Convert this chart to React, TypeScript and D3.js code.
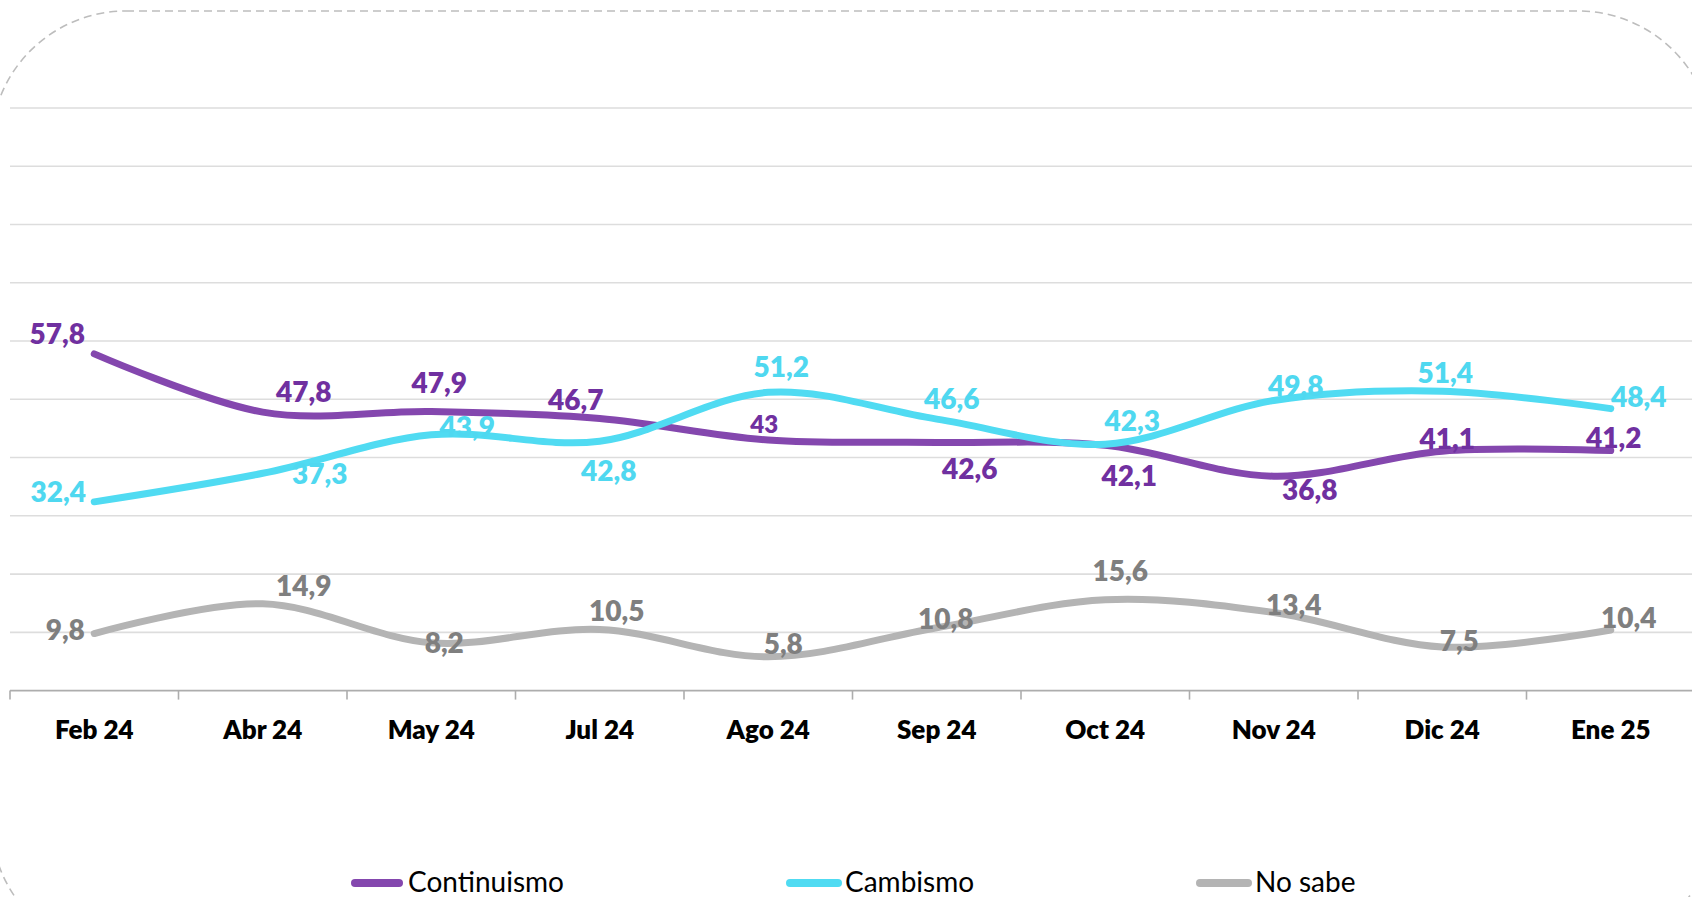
import React from "react";
import * as d3 from "d3";

const categories = ["Feb 24", "Abr 24", "May 24", "Jul 24", "Ago 24", "Sep 24", "Oct 24", "Nov 24", "Dic 24", "Ene 25"];
const continuismo = [57.8, 47.8, 47.9, 46.7, 43, 42.6, 42.1, 36.8, 41.1, 41.2];
const cambismo = [32.4, 37.3, 43.9, 42.8, 51.2, 46.6, 42.3, 49.8, 51.4, 48.4];
const noSabe = [9.8, 14.9, 8.2, 10.5, 5.8, 10.8, 15.6, 13.4, 7.5, 10.4];
const yTicks = [0, 10, 20, 30, 40, 50, 60, 70, 80, 90, 100];
const seriesNames = ["Continuismo", "Cambismo", "No sabe"];

// label placement offsets (layout only)
const contOffsets = [[-37, -21], [41, -21], [8, -30], [-24, -20], [-4, -17], [33, 26], [24, 30], [36, 13], [5, -13], [3, -14]];
const cambOffsets = [[-36, -11], [57, 0], [36, -9], [9, 29], [13, -26], [15, -21], [27, -24], [22, -15], [3, -19], [28, -13]];
const nsOffsets = [[-29, -5], [41, -19], [13, -1], [17, -19], [15, -14], [9, -10], [15, -30], [20, -9], [17, -7], [18, -13]];

const W = 1692;
const H = 897;
const FONT = "Lato, 'Open Sans', sans-serif";

export default function App() {
  const x = d3.scaleBand<string>().domain(categories).range([10, 1695]);
  const y = d3.scaleLinear().domain([0, 100]).range([690.6, 108]);
  const cx = (c: string) => (x(c) as number) + x.bandwidth() / 2;

  const line = d3
    .line<number>()
    .x((_, i) => cx(categories[i]))
    .y((d) => y(d))
    .curve(d3.curveCatmullRom.alpha(0));

  const series = [
    { name: seriesNames[0], values: continuismo, offsets: contOffsets, stroke: "#8447AE", label: "#7030A0" },
    { name: seriesNames[1], values: cambismo, offsets: cambOffsets, stroke: "#50DBF2", label: "#4FD8F0" },
    { name: seriesNames[2], values: noSabe, offsets: nsOffsets, stroke: "#B4B4B4", label: "#7F7F7F" },
  ];

  const legendPos = [
    { x1: 355, x2: 399, tx: 408 },
    { x1: 790, x2: 838, tx: 845 },
    { x1: 1200, x2: 1248, tx: 1255 },
  ];

  const ticks = d3.range(categories.length + 1).map((i) => 10 + i * x.step());

  return (
    <svg
      width={W}
      height={H}
      style={{ position: "absolute", left: 0, top: 0, background: "#fff" }}
      fontFamily={FONT}
    >
      <rect x={0} y={0} width={W} height={H} fill="#fff" />
      <rect
        x={-9}
        y={11}
        width={1722}
        height={944}
        rx={135}
        ry={135}
        fill="none"
        stroke="#BDBDBD"
        strokeWidth={1.6}
        strokeDasharray="8 5"
      />
      {yTicks.slice(1).map((t) => (
        <line key={t} x1={10} x2={W} y1={y(t)} y2={y(t)} stroke="#DDDDDD" strokeWidth={1.6} />
      ))}
      <line x1={10} x2={W} y1={y(0)} y2={y(0)} stroke="#ADADAD" strokeWidth={1.6} />
      {ticks.map((t, i) => (
        <line key={i} x1={t} x2={t} y1={y(0)} y2={y(0) + 9} stroke="#ADADAD" strokeWidth={1.6} />
      ))}
      {categories.map((c) => (
        <text key={c} x={cx(c)} y={739} textAnchor="middle" fontSize={26} fontWeight={800} fill="#000">
          {c}
        </text>
      ))}
      {series.map((s) => (
        <path
          key={s.name}
          d={line(s.values) || ""}
          fill="none"
          stroke={s.stroke}
          strokeWidth={7}
          strokeLinecap="round"
          strokeLinejoin="round"
        />
      ))}
      {series.map((s) =>
        s.values.map((v, i) => (
          <text
            key={s.name + i}
            x={cx(categories[i]) + s.offsets[i][0]}
            y={y(v) + s.offsets[i][1]}
            textAnchor="middle"
            dominantBaseline="central"
            fontSize={v === 43 && s.name === "Continuismo" ? 24 : 28}
            fontWeight={800}
            fill={s.label}
          >
            {String(v).replace(".", ",")}
          </text>
        ))
      )}
      {series.map((s, i) => (
        <g key={"lg" + s.name}>
          <line
            x1={legendPos[i].x1}
            x2={legendPos[i].x2}
            y1={883}
            y2={883}
            stroke={s.stroke}
            strokeWidth={8}
            strokeLinecap="round"
          />
          <text x={legendPos[i].tx} y={892} fontSize={28} fill="#000">
            {s.name}
          </text>
        </g>
      ))}
    </svg>
  );
}
